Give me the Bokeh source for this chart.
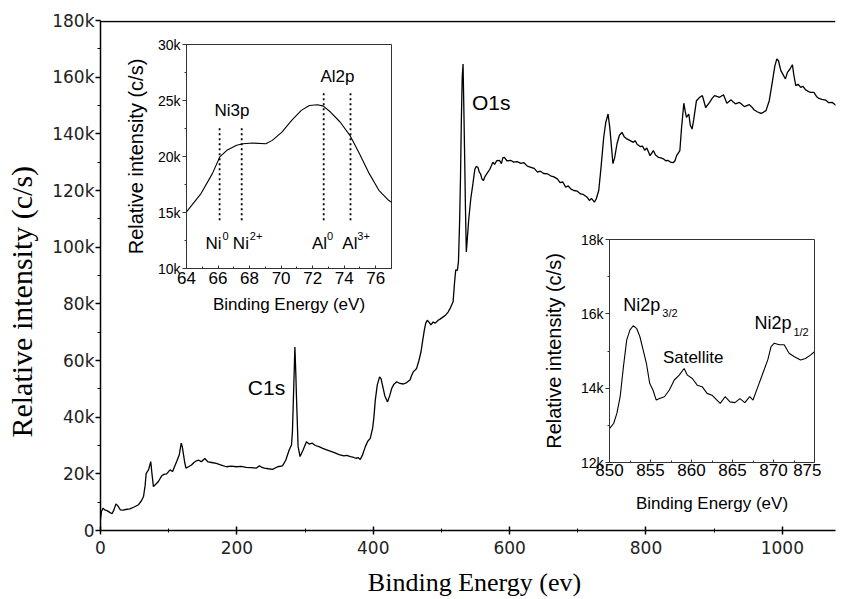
from bokeh.plotting import figure
from bokeh.models import Range1d, FixedTicker
from bokeh.layouts import column
from bokeh.embed import file_html
from bokeh.resources import INLINE
from bokeh.core.properties import value

# ---------------- data ----------------
survey_energy = [0, 1.5, 3.8, 6, 9.6, 13, 16.9, 19.5, 22.7, 25.5, 29.1, 33, 38.8, 43, 48.5, 55.8, 60, 63.1,
                 65.5, 67, 70.4, 73.7, 75.5, 77.6, 81, 84.9, 89.7, 93, 97, 102, 105.8, 108.5, 111.6, 115.5,
                 118.4, 120, 121.4, 123.5, 125.3, 129, 133.4, 137, 140.7, 144, 148, 152.9, 157.8, 163, 169.9,
                 176, 184.5, 192, 199, 206, 213.6, 221, 228.1, 233, 236, 240.3, 246, 252.4, 259.7, 266.9,
                 271.8, 276.7, 280.1, 281.5, 283, 285.1, 286.5, 287.4, 289.8, 292.7, 297.1, 302, 306, 310.7,
                 315, 320.4, 326, 332.6, 338, 344.7, 350, 356.9, 361, 366.6, 370, 374.8, 378, 381, 384, 388.4,
                 392, 395.6, 399.1, 401, 403, 406, 409.3, 411.5, 414.1, 417, 421, 424, 427.2, 430, 434.5, 439,
                 444.3, 449, 453.9, 456, 458.8, 463.6, 467, 470, 472.5, 474.9, 477, 479.2, 481.5, 484.5, 487.9,
                 491, 495.2, 498, 502.5, 506, 509.8, 513, 517.1, 519.5, 521, 523.4, 525, 526.7, 528, 529.2,
                 530.5, 531.7, 532.8, 534, 535.3, 536.5, 538, 539.9, 543, 546.2, 549, 551, 553.5, 555.5, 557.3,
                 559.5, 561.7, 564, 568.1, 571, 575.4, 578, 581, 585, 588, 590, 592.3, 596, 602, 606, 611,
                 616.6, 621, 626, 631.2, 636, 640.9, 645, 650, 655.5, 660, 665, 670, 674, 678, 682.2, 686, 690,
                 694.2, 699, 704, 708, 713.8, 717, 720, 724.4, 727, 730.7, 734, 738, 741, 744.4, 747, 751.5,
                 754, 757.5, 761, 764.8, 768, 772, 776.8, 781.6, 784.1, 787, 791.4, 795, 798, 801.2, 806,
                 810.8, 814, 818.1, 822, 825.4, 829, 832.6, 836, 839.9, 842.5, 844.9, 849.7, 852.2, 855.5,
                 857.5, 859.4, 862.8, 865, 867.6, 870, 874, 878.8, 882.7, 885, 887.5, 893.3, 897, 900.6, 904,
                 907.9, 913.7, 918.6, 924.9, 928, 931.2, 937, 940, 944.3, 951.6, 955, 958.9, 963, 968.7, 972,
                 976, 980.8, 985.6, 989, 991.9, 994.3, 997.8, 1002.6, 1004.5, 1007.4, 1011, 1014.7, 1017,
                 1019.7, 1023, 1027, 1030, 1034.2, 1038, 1041.5, 1046.3, 1050, 1053.6, 1058, 1063.4, 1068,
                 1073, 1078, 1082.8, 1085.7]
survey_kcps = [4.0, 6.8, 7.9, 7.3, 7.0, 6.5, 5.9, 7.2, 9.4, 8.7, 7.3, 7.2, 7.5, 7.6, 8.2, 9.1, 10.5, 12.0,
               16, 20.2, 21.4, 24.3, 20, 15.5, 16.3, 17.3, 19.3, 19.8, 20.0, 21.4, 20.8, 22.5, 24.3, 26.7,
               30.8, 29.5, 27.3, 24, 22.0, 22.5, 23.1, 24.0, 24.6, 24.8, 24.3, 25.4, 24.2, 24.0, 23.7,
               23.2, 22.5, 22.7, 22.5, 22.6, 22.3, 22.2, 22.0, 22.8, 22.4, 22.0, 21.8, 21.6, 22.5, 22.8,
               24.9, 28.4, 30.2, 35, 47.2, 64.8, 55, 47.2, 29.6, 26.1, 28.4, 31.3, 30.5, 30.8,
               30.0, 29.6, 29.0, 28.4, 27.9, 27.3, 26.8, 26.3, 26.5, 26.1, 25.9, 25.5, 25.7, 25.1, 26.5, 29.6,
               31.5, 32.5, 36.1, 40, 46.0, 51.5, 54.2, 53.5, 50.7, 47.5, 45.4, 47.5, 50.2, 51.5, 52.5, 51.9,
               51.7, 52.2, 53.1, 54.5, 56.0, 57.2, 60, 63.0, 67, 70.7, 73.2, 74.2, 73.6, 72.6, 73.6,
               73.2, 74.2, 74.6, 75.4, 76.0, 77.1, 78.5, 80.7, 88.3, 92.0, 91.8, 95, 109.4, 125, 144.6,
               160, 164.6, 150, 132.9, 113, 98.3, 103, 109.4, 117, 122.4, 127.5, 128.5, 128.2, 126.5, 125.9,
               124, 123.5, 125, 126.5, 127.5, 130.0, 129.2, 130.5, 130.6, 129.5, 131.5, 131.7, 130.5, 130.6, 130.0, 130.2,
               129.6, 129.8, 128.6, 128.2, 127.8, 126.5, 126.8, 126.0, 125.9, 125.2, 124.8, 124.1, 122.8, 123.0, 121.2, 121.6, 120.5,
               120.0, 119.8, 118.8, 118.6, 117.6, 116.5, 117.2, 115.9, 117, 120.0, 128, 138.8, 144, 147.0, 142, 129.5,
               131.5, 136.5, 139.5, 140.5, 139, 138.2, 137.6, 137.0, 137.6, 136.3, 135.5, 135.7, 134.2, 135.0, 132.3,
               134.1, 132.5, 131.7, 131.5, 131.2, 130.5, 130.6, 130.0, 129.8, 130.5, 132.3, 134.1, 142.3, 150.8,
               148, 145.8, 147.0, 143, 141.7, 145, 151.7, 152.9, 153.5, 151.5, 149.3, 151.1, 152.5, 153.5, 153.2,
               152.9, 153.8, 150.8, 152.0, 151.2, 150.6, 151.1, 150.5, 149.6, 150.3, 149.5, 148.4, 147.8, 147.2, 147.6,
               148.2, 151.7, 158.8, 164, 166.4, 165.8, 162.3, 160.2, 159.4, 161.7, 162.8, 164.4, 160.5,
               157.0, 157.5, 156.4, 156.8, 155.5, 155.0, 154.6, 154.6, 153.2, 152.5, 152.2, 151.9, 151.0,
               151.1, 150.2, 149.3, 151.1]

main_x_ticks = [0, 200, 400, 600, 800, 1000]
main_x_labels = ["0", "200", "400", "600", "800", "1000"]
main_y_ticks = [0, 20, 40, 60, 80, 100, 120, 140, 160, 180]
main_y_labels = ["0", "20k", "40k", "60k", "80k", "100k", "120k", "140k", "160k", "180k"]

ni3p_energy = [64, 64.92, 65.64, 66.11, 66.56, 67.18, 67.59, 68.2, 69.03, 69.44, 70.05, 70.67, 71.28,
               71.79, 72.31, 72.68, 73.13, 73.74, 74.36, 74.97, 75.59, 76.2, 76.82, 77.0]
ni3p_kcps = [15.05, 16.69, 18.47, 19.96, 20.55, 21.0, 21.14, 21.2, 21.14, 21.44, 22.18, 23.22, 24.12,
             24.56, 24.62, 24.5, 23.97, 23.08, 21.89, 20.25, 18.47, 16.98, 16.09, 15.9]
inset1_x_ticks = [64, 66, 68, 70, 72, 74, 76]
inset1_y_ticks = [10, 15, 20, 25, 30]
inset1_y_labels = ["10k", "15k", "20k", "25k", "30k"]
state_energy = [66.1, 67.5, 72.7, 74.4]
state_top = [22.6, 22.6, 25.8, 25.8]
state_bottom = [14.3, 14.3, 14.3, 14.3]

ni2p_energy = [850, 850.5, 850.9, 851.3, 851.7, 852.1, 852.5, 852.9, 853.3, 853.7, 854.1, 854.5, 854.9,
               855.3, 855.7, 856.1, 856.7, 857.3, 857.9, 858.5, 859.1, 859.5, 860.1, 860.7, 861.3, 861.9,
               862.5, 863.1, 863.5, 864.1, 864.7, 865.3, 865.9, 866.5, 867.1, 867.5, 868.1, 868.7, 869.3,
               869.7, 870.1, 870.7, 871.3, 871.9, 872.5, 873.3, 873.9, 874.5, 875]
ni2p_kcps = [12.91, 13.05, 13.32, 13.77, 14.58, 15.3, 15.57, 15.68, 15.61, 15.39, 15.03, 14.67, 14.13,
             13.95, 13.68, 13.72, 13.77, 13.95, 14.22, 14.35, 14.53, 14.35, 14.26, 14.08, 14.04, 13.86,
             13.81, 13.68, 13.59, 13.77, 13.63, 13.61, 13.72, 13.61, 13.77, 13.68, 14.04, 14.40, 14.76,
             15.12, 15.21, 15.17, 15.17, 14.94, 14.85, 14.76, 14.80, 14.89, 14.98]
inset2_x_ticks = [850, 855, 860, 865, 870, 875]
inset2_y_ticks = [12, 14, 16, 18]
inset2_y_labels = ["12k", "14k", "16k", "18k"]

NB = "\u00a0"

# ---------------- main figure ----------------
W, H = 842, 599
ML, MT, MB, MR = 95, 20, 68, 7
x_end = (W - ML - MR) / 0.6865

p = figure(width=W, height=H, output_backend="svg", toolbar_location=None,
           x_range=Range1d(0, x_end), y_range=Range1d(0, 180),
           min_border_left=ML, min_border_right=MR, min_border_top=MT, min_border_bottom=MB)
p.outline_line_color = None
p.grid.visible = False
p.background_fill_color = "white"
p.border_fill_color = "white"

p.line(survey_energy, survey_kcps, line_color="black", line_width=1.3)
p.hspan(y=[179.75], line_color="black", line_width=1.5)

xa = p.xaxis[0]
xa.ticker = FixedTicker(ticks=main_x_ticks, minor_ticks=[t + 100 for t in main_x_ticks])
xa.major_label_overrides = {t: s for t, s in zip(main_x_ticks, main_x_labels)}
ya = p.yaxis[0]
ya.ticker = FixedTicker(ticks=main_y_ticks, minor_ticks=[t + 10 for t in main_y_ticks[:-1]])
ya.major_label_overrides = {t: s for t, s in zip(main_y_ticks, main_y_labels)}
for ax in (xa, ya):
    ax.major_label_text_font = "DejaVu Sans"
    ax.major_label_text_font_size = "17px"
    ax.major_label_text_color = "#222"
    ax.axis_line_width = 1.5
    ax.axis_line_color = "black"
    ax.major_tick_line_width = 1.5
    ax.minor_tick_line_width = 1
    ax.axis_label_text_font = "Liberation Serif"
    ax.axis_label_text_font_style = "normal"
    ax.axis_label_text_color = "black"
xa.major_tick_in = 4
xa.major_tick_out = 4
xa.minor_tick_in = 2
xa.minor_tick_out = 2
xa.major_label_standoff = 6
xa.axis_label = NB * 2 + "Binding Energy (ev)"
xa.axis_label_text_font_size = "26px"
xa.axis_label_standoff = 11
ya.major_tick_in = 0
ya.major_tick_out = 5
ya.minor_tick_in = 0
ya.minor_tick_out = 3
ya.major_label_standoff = 1
ya.axis_label = "Relative intensity (c/s)" + NB * 7
ya.axis_label_text_font_size = "30px"
ya.axis_label_standoff = 11

p.text(x=[216, 544.8], y=[50.5, 151.1], text=["C1s", "O1s"], text_font=value("Liberation Sans"),
       text_font_size="21px", text_align="left", text_baseline="alphabetic", text_color="black")


def make_inset(xr, yr, fw, fh, ml, mt, mr, mb, xt, xminor, yt, yminor, ylabels,
               x_std, x_title_std, y_std, y_title_std):
    f = figure(width=ml + fw + mr, height=mt + fh + mb, output_backend="svg", toolbar_location=None,
               x_range=Range1d(*xr), y_range=Range1d(*yr),
               min_border_left=ml, min_border_right=mr, min_border_top=mt, min_border_bottom=mb)
    f.outline_line_color = "#333"
    f.outline_line_width = 1
    f.grid.visible = False
    f.background_fill_color = "white"
    f.border_fill_alpha = 0
    bx = f.xaxis[0]
    by = f.yaxis[0]
    bx.ticker = FixedTicker(ticks=xt, minor_ticks=xminor)
    by.ticker = FixedTicker(ticks=yt, minor_ticks=yminor)
    by.major_label_overrides = {t: s for t, s in zip(yt, ylabels)}
    bx.major_label_text_font_size = "17px"
    by.major_label_text_font_size = "14px"
    for ax in (bx, by):
        ax.major_label_text_font = "Liberation Sans"
        ax.major_label_text_color = "black"
        ax.axis_line_color = "#333"
        ax.major_tick_line_color = "#333"
        ax.minor_tick_line_color = "#333"
        ax.axis_label_text_font = "Liberation Sans"
        ax.axis_label_text_font_style = "normal"
        ax.axis_label_text_color = "black"
    bx.axis_label = "Binding Energy (eV)"
    bx.axis_label_text_font_size = "17px"
    by.axis_label = "Relative intensity (c/s)"
    by.axis_label_text_font_size = "20px"
    bx.major_tick_in = 3
    bx.major_tick_out = 0
    bx.minor_tick_in = 2
    bx.minor_tick_out = 0
    bx.major_label_standoff = x_std
    bx.axis_label_standoff = x_title_std
    by.major_tick_in = 0
    by.major_tick_out = 4
    by.minor_tick_in = 0
    by.minor_tick_out = 2
    by.major_label_standoff = y_std
    by.axis_label_standoff = y_title_std
    return f


F = value("Liberation Sans")

# ---------------- inset 1 : Ni3p / Al2p ----------------
p1 = make_inset((64, 77), (10, 30), 208, 224, 100, 10, 4, 56,
                inset1_x_ticks, [t + 1 for t in inset1_x_ticks], inset1_y_ticks,
                [t + 2.5 for t in inset1_y_ticks[:-1]], inset1_y_labels, 3, 8, 2, 8)
p1.line(ni3p_energy, ni3p_kcps, line_color="black", line_width=1.1)
p1.segment(x0=state_energy, y0=state_bottom, x1=state_energy, y1=state_top,
           line_color="black", line_width=1.8, line_dash="2 3")
p1.text(x=[66.88, 73.57], y=[24.13, 27.17], text=["Ni3p", "Al2p"], text_font=F,
        text_font_size="17px", text_align="center", text_baseline="alphabetic", text_color="black")
p1.text(x=[65.21, 66.94, 71.96, 73.88], y=[12.23] * 4, text=["Ni", "Ni", "Al", "Al"], text_font=F,
        text_font_size="17px", text_align="left", text_baseline="alphabetic", text_color="black")
p1.text(x=[65.21, 66.94, 71.96, 73.88], y=[12.9] * 4, text=["0", "2+", "0", "3+"], text_font=F,
        text_font_size="11px", text_align="left", text_baseline="alphabetic", text_color="black",
        x_offset=[17, 17, 15, 15])

# ---------------- inset 2 : Ni2p ----------------
p2 = make_inset((850, 875), (12, 18), 208, 223, 100, 10, 4, 56,
                inset2_x_ticks, [t + 2.5 for t in inset2_x_ticks[:-1]], inset2_y_ticks,
                [t + 1 for t in inset2_y_ticks[:-1]], inset2_y_labels, 1, 15, 2, 13)
p2.line(ni2p_energy, ni2p_kcps, line_color="black", line_width=1.1)
p2.text(x=[851.68, 867.67], y=[16.24, 15.75], text=["Ni2p", "Ni2p"], text_font=F,
        text_font_size="18px", text_align="left", text_baseline="alphabetic", text_color="black")
p2.text(x=[851.68, 867.67], y=[16.01, 15.52], text=["3/2", "1/2"], text_font=F,
        text_font_size="11px", text_align="left", text_baseline="alphabetic", text_color="black",
        x_offset=[39, 39])
p2.text(x=[860.2], y=[14.82], text=["Satellite"], text_font=F,
        text_font_size="17px", text_align="center", text_baseline="alphabetic", text_color="black")

# placement (page pixels of each inset canvas' top-left corner)
p1.styles = {"position": "absolute", "left": "86px", "top": "34px"}
p2.styles = {"position": "absolute", "left": "509px", "top": "229px"}

layout = column(p, p1, p2, styles={"position": "relative"})

open("out.html", "w").write(file_html(layout, INLINE))
